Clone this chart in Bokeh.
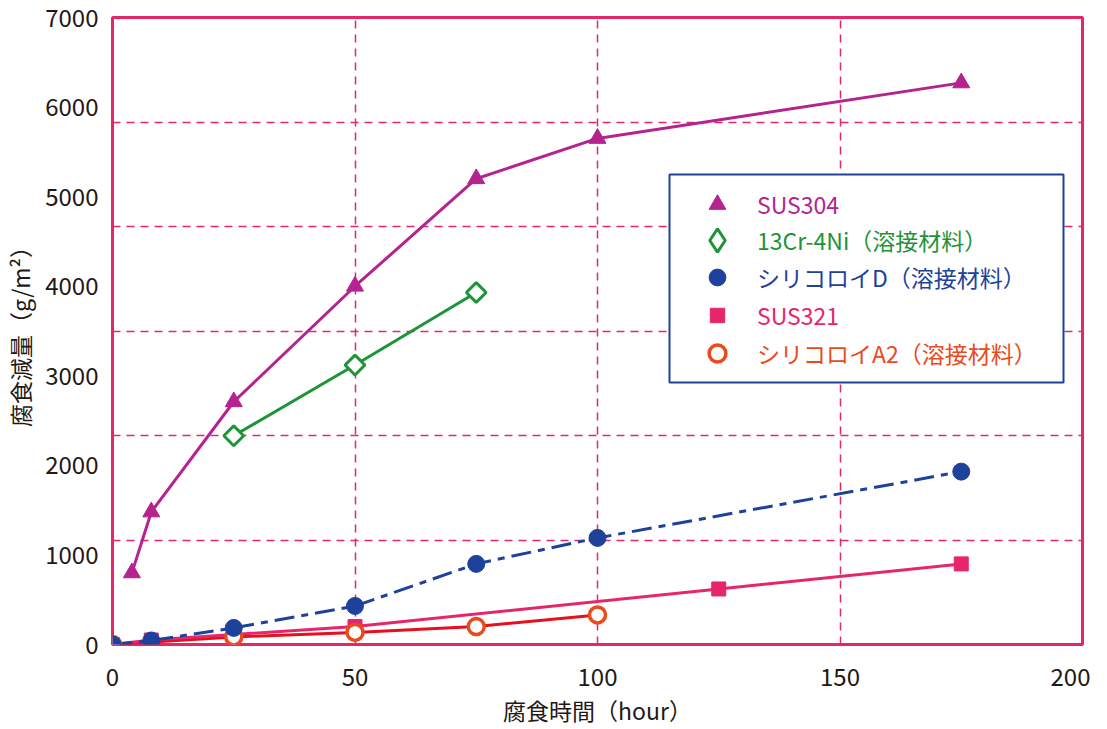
import math
from bokeh.plotting import figure
from bokeh.models import FixedTicker, Range1d, Legend, LegendItem, BoxAnnotation
from bokeh.embed import file_html
from bokeh.resources import INLINE

# ---- data ----
hours_304 = [4, 8, 25, 50, 75, 100, 175]
loss_304 = [800, 1480, 2710, 4000, 5200, 5650, 6270]

hours_13cr = [25, 50, 75]
loss_13cr = [2330, 3120, 3930]

hours_d = [0, 8, 25, 50, 75, 100, 175]
loss_d = [0, 45, 185, 430, 900, 1190, 1930]

hours_321 = [0, 8, 50, 125, 175]
loss_321 = [0, 50, 200, 620, 900]

hours_a2 = [0, 25, 50, 75, 100]
loss_a2 = [0, 85, 135, 200, 330]

x_ticks = [0, 50, 100, 150, 200]
x_grid = [50, 100, 150]
y_ticks = [0, 1000, 2000, 3000, 4000, 5000, 6000, 7000]
y_grid = [7000 * k / 6 for k in range(1, 6)]

labels = ["SUS304", "13Cr-4Ni（溶接材料）", "シリコロイD（溶接材料）", "SUS321", "シリコロイA2（溶接材料）"]

# ---- styles ----
FONT = "Noto Sans CJK JP"
FRAME = "#E6266B"
C304 = "#B4238E"
C13 = "#1E9438"
CD = "#1E429B"
C321 = "#E6266B"
CA2_LINE = "#E60F1E"
CA2_MARK = "#EA4A1C"
TXT = "#231815"

TOP = 17
FRAME_H = 627
p = figure(frame_width=970, frame_height=FRAME_H,
           min_border_left=111, min_border_right=8, min_border_top=TOP, min_border_bottom=80,
           x_range=Range1d(0, 200), y_range=Range1d(0, 7000),
           output_backend="svg", toolbar_location=None,
           background_fill_color="white", border_fill_color="white")

p.outline_line_color = FRAME
p.outline_line_width = 3

for ax in (p.xaxis, p.yaxis):
    ax.axis_line_color = None
    ax.major_tick_line_color = None
    ax.minor_tick_line_color = None
    ax.major_tick_out = 0
    ax.major_tick_in = 0
    ax.major_label_text_font = FONT
    ax.major_label_text_font_size = "24px"
    ax.major_label_text_color = TXT
    ax.axis_label_text_font = FONT
    ax.axis_label_text_font_size = "23px"
    ax.axis_label_text_font_style = "normal"
    ax.axis_label_text_color = TXT

p.xaxis.ticker = FixedTicker(ticks=x_ticks)
p.yaxis.ticker = FixedTicker(ticks=y_ticks)
p.xaxis.axis_label = "腐食時間（hour）"
p.yaxis.axis_label = "腐食減量（g/m²）"
p.xaxis.major_label_standoff = 23
p.xaxis.axis_label_standoff = 4
p.yaxis.major_label_standoff = 14
p.yaxis.axis_label_standoff = 5

p.xgrid.ticker = FixedTicker(ticks=x_grid)
p.ygrid.ticker = FixedTicker(ticks=y_grid)
for g in (p.xgrid, p.ygrid):
    g.grid_line_color = FRAME
    g.grid_line_width = 1.5
    g.grid_line_dash = "8 6"

# ---- lines ----
p.line(hours_a2, loss_a2, line_color=CA2_LINE, line_width=3)
p.line(hours_321, loss_321, line_color=C321, line_width=3)
p.line(hours_d, loss_d, line_color=CD, line_width=3, line_dash="20 7 7 7")
p.line(hours_13cr, loss_13cr, line_color=C13, line_width=3)
p.line(hours_304, loss_304, line_color=C304, line_width=3)

# ---- markers ----
r321 = p.scatter(hours_321, loss_321, marker="square", size=14, fill_color=C321, line_color=C321)
ra2 = p.scatter(hours_a2, loss_a2, marker="circle", size=16, fill_color="white",
                line_color=CA2_MARK, line_width=3.5)
rd = p.scatter(hours_d, loss_d, marker="circle", size=17, fill_color=CD, line_color=CD)
# diamond key for the legend (hidden beneath the rotated squares drawn next)
r13_key = p.scatter(hours_13cr, loss_13cr, marker="diamond", size=10,
                    fill_color="white", line_color=C13, line_width=3)
r13 = p.scatter(hours_13cr, loss_13cr, marker="square", size=14, angle=math.pi / 4,
                fill_color="white", line_color=C13, line_width=3)
r304 = p.scatter(hours_304, loss_304, marker="triangle", size=17, fill_color=C304, line_color=C304)

# ---- legend box (pixel rows 175..383, cols 672..1066 of the picture) ----
frame_top_px = 1 + TOP
frame_bottom_px = frame_top_px + FRAME_H
per_px = 7000 / FRAME_H
box = BoxAnnotation(left=(672 - 115) / 4.85, right=(1066 - 115) / 4.85,
                    bottom=(frame_bottom_px - 383) * per_px, top=(frame_bottom_px - 175) * per_px,
                    fill_color="white", fill_alpha=1.0, line_color=CD, line_alpha=1.0,
                    line_width=2)
p.add_layout(box)

renderers = [r304, r13_key, rd, r321, ra2]
colors = [C304, C13, CD, C321, CA2_MARK]
row_centers = [205, 241, 278, 316, 354]   # pixel rows of the legend entries
glyph_sizes = [42, 58, 42, 36, 42]
key_center_px = 720 - 115
for lab, rr, col, yc, gs in zip(labels, renderers, colors, row_centers, glyph_sizes):
    lg = Legend(items=[LegendItem(label=lab, renderers=[rr])],
                location=(key_center_px - gs / 2, frame_bottom_px - (yc + gs / 2)),
                padding=0, margin=0, spacing=0, glyph_width=gs, glyph_height=gs,
                label_height=gs, label_standoff=int(40 - gs / 2), border_line_color=None,
                background_fill_alpha=0, label_text_color=col,
                label_text_font=FONT, label_text_font_size="23px")
    p.add_layout(lg)

open("out.html", "w").write(file_html(p, INLINE))
